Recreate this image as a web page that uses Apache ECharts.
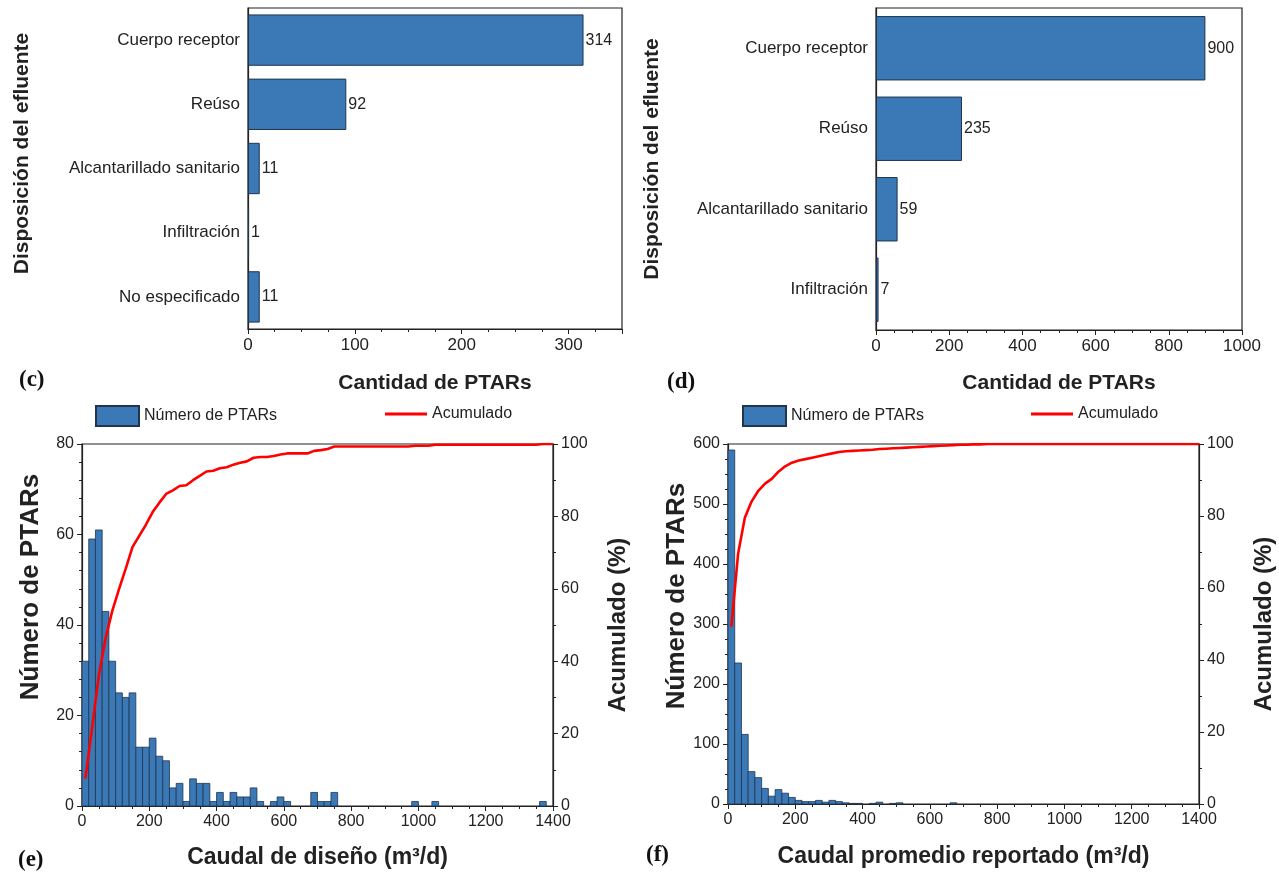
<!DOCTYPE html>
<html>
<head>
<meta charset="utf-8">
<script src="https://cdn.jsdelivr.net/npm/echarts@6/dist/echarts.min.js"></script>
<style>
  html, body { margin: 0; padding: 0; background: #fff; }
  #chart { width: 1279px; height: 886px; }
</style>
</head>
<body>
<div id="chart"></div>
<script>
// (c) disposición del efluente - caudal de diseño
const catsC = ['Cuerpo receptor', 'Reúso', 'Alcantarillado sanitario', 'Infiltración', 'No especificado']
const valsC = [314, 92, 11, 1, 11]

// (d) disposición del efluente - caudal reportado
const catsD = ['Cuerpo receptor', 'Reúso', 'Alcantarillado sanitario', 'Infiltración']
const valsD = [900, 235, 59, 7]

// histogram bins are 20 m3/d wide, from 0 to 1400
const binW = 20
const countsE = [
  32, 59, 61, 43, 32, 25, 24, 25, 13, 13,
  15, 11, 10, 4, 5, 1, 6, 5, 5, 1,
  3, 1, 3, 2, 2, 4, 1, 0, 1, 2,
  1, 0, 0, 0, 3, 1, 1, 3, 0, 0,
  0, 0, 0, 0, 0, 0, 0, 0, 0, 1,
  0, 0, 1, 0, 0, 0, 0, 0, 0, 0,
  0, 0, 0, 0, 0, 0, 0, 0, 1, 0
]
const cumE = [
  7.6, 21.6, 36.1, 46.3, 53.9, 59.9, 65.6, 71.5, 74.6, 77.7,
  81.2, 83.8, 86.2, 87.2, 88.4, 88.6, 90.0, 91.2, 92.4, 92.6,
  93.3, 93.6, 94.3, 94.8, 95.2, 96.2, 96.4, 96.4, 96.7, 97.1,
  97.4, 97.4, 97.4, 97.4, 98.1, 98.3, 98.6, 99.3, 99.3, 99.3,
  99.3, 99.3, 99.3, 99.3, 99.3, 99.3, 99.3, 99.3, 99.3, 99.5,
  99.5, 99.5, 99.8, 99.8, 99.8, 99.8, 99.8, 99.8, 99.8, 99.8,
  99.8, 99.8, 99.8, 99.8, 99.8, 99.8, 99.8, 99.8, 100, 100
]
const countsF = [
  590, 235, 116, 54, 44, 26, 13, 24, 18, 11,
  6, 4, 4, 6, 3, 6, 4, 2, 1, 1,
  0, 1, 3, 0, 1, 2, 0, 0, 0, 0,
  0, 0, 0, 2, 0, 0, 0, 0, 0, 0,
  0, 0, 0, 0, 0, 0, 0, 0, 0, 0,
  0, 0, 0, 0, 0, 0, 0, 0, 0, 0,
  0, 0, 0, 0, 0, 0, 0, 0, 0, 0
]
const cumF = [
  49.3, 69.5, 79.5, 84.0, 87.0, 89.0, 90.3, 92.3, 93.8, 94.8,
  95.4, 95.8, 96.2, 96.6, 97.0, 97.4, 97.8, 98.0, 98.1, 98.2,
  98.3, 98.4, 98.6, 98.7, 98.8, 98.9, 99.0, 99.1, 99.2, 99.3,
  99.4, 99.5, 99.6, 99.7, 99.8, 99.8, 99.9, 99.9, 100, 100,
  100, 100, 100, 100, 100, 100, 100, 100, 100, 100,
  100, 100, 100, 100, 100, 100, 100, 100, 100, 100,
  100, 100, 100, 100, 100, 100, 100, 100, 100, 100
]
const xMaxHist = 1400

const BLUE = '#3a78b6'
const EDGE = '#1f3550'
const RED = '#ff0000'
const INK = '#222'
const FONT = '"Liberation Sans", Arial, sans-serif'

function toBins(counts) {
  return counts
    .map((c, i) => [i * binW, (i + 1) * binW, c])
    .filter((d) => d[2] > 0)
}
function toLine(cum) {
  const pts = cum.map((p, i) => [i * binW + binW / 2, p])
  pts.push([xMaxHist, cum[cum.length - 1]])
  return pts
}
function renderBin(params, api) {
  const a = api.coord([api.value(0), api.value(2)])
  const b = api.coord([api.value(1), 0])
  return {
    type: 'rect',
    shape: { x: a[0], y: a[1], width: b[0] - a[0], height: b[1] - a[1] },
    style: { fill: BLUE, stroke: EDGE, lineWidth: 0.8 }
  }
}

function titleStyle(size, pad) {
  return { color: INK, fontWeight: 'bold', fontSize: size, fontFamily: FONT, padding: pad || 0 }
}

function valueAxis(extra, minorSplit) {
  return Object.assign({
    type: 'value',
    axisLine: { show: true, lineStyle: { color: INK, width: 1.2 } },
    axisTick: { show: true, length: 5, lineStyle: { color: INK } },
    minorTick: { show: true, splitNumber: minorSplit, length: 3, lineStyle: { color: INK } },
    splitLine: { show: false },
    axisLabel: { color: INK, fontSize: 16, fontFamily: FONT, formatter: (v) => String(v) },
    nameLocation: 'middle'
  }, extra)
}

const legendText = { fontSize: 16, color: INK, fontFamily: FONT }

const chart = echarts.init(document.getElementById('chart'))

chart.setOption({
  backgroundColor: '#fff',
  animation: false,
  textStyle: { fontFamily: FONT },
  grid: [
    { left: 248, top: 8, width: 374, height: 321, show: true, borderColor: INK, borderWidth: 1.2 },
    { left: 876, top: 8, width: 366, height: 322, show: true, borderColor: INK, borderWidth: 1.2 },
    { left: 82, top: 444, width: 471, height: 362, show: true, borderColor: INK, borderWidth: 1.2 },
    { left: 728, top: 444, width: 471, height: 360, show: true, borderColor: INK, borderWidth: 1.2 }
  ],
  legend: [
    { data: [{ name: 'Número de PTARs', icon: 'rect' }], left: 90, top: 400, itemWidth: 43, itemHeight: 20, textStyle: legendText },
    { data: [{ name: 'Acumulado', icon: 'rect' }], left: 380, top: 401, itemWidth: 42, itemHeight: 3, textStyle: legendText },
    { data: [{ name: 'Número de PTARs ', icon: 'rect' }], left: 737, top: 400, itemWidth: 43, itemHeight: 20, textStyle: legendText },
    { data: [{ name: 'Acumulado ', icon: 'rect' }], left: 1026, top: 401, itemWidth: 42, itemHeight: 3, textStyle: legendText }
  ],
  xAxis: [
    valueAxis({ gridIndex: 0, min: 0, max: 350, interval: 100,
      axisLabel: { color: INK, fontSize: 17, fontFamily: FONT, showMaxLabel: false },
      name: 'Cantidad de PTARs', nameGap: 44, nameTextStyle: titleStyle(21) }, 4),
    valueAxis({ gridIndex: 1, min: 0, max: 1000, interval: 200,
      axisLabel: { color: INK, fontSize: 17, fontFamily: FONT, formatter: (v) => String(v) },
      name: 'Cantidad de PTARs', nameGap: 43, nameTextStyle: titleStyle(21) }, 4),
    valueAxis({ gridIndex: 2, min: 0, max: xMaxHist, interval: 200,
      name: 'Caudal de diseño (m³/d)', nameGap: 40, nameTextStyle: titleStyle(23) }, 4),
    valueAxis({ gridIndex: 3, min: 0, max: xMaxHist, interval: 200,
      name: 'Caudal promedio reportado (m³/d)', nameGap: 41, nameTextStyle: titleStyle(23) }, 4)
  ],
  yAxis: [
    {
      type: 'category', gridIndex: 0, data: catsC, inverse: true,
      axisLine: { lineStyle: { color: INK, width: 1.2 } },
      axisTick: { show: false },
      axisLabel: { color: INK, fontSize: 17, fontFamily: FONT, margin: 8 },
      name: 'Disposición del efluente', nameLocation: 'middle', nameGap: 215,
      nameTextStyle: titleStyle(21, [0, 0, 0, 30])
    },
    {
      type: 'category', gridIndex: 1, data: catsD, inverse: true,
      axisLine: { lineStyle: { color: INK, width: 1.2 } },
      axisTick: { show: false },
      axisLabel: { color: INK, fontSize: 17, fontFamily: FONT, margin: 8 },
      name: 'Disposición del efluente', nameLocation: 'middle', nameGap: 213,
      nameTextStyle: titleStyle(21, [0, 0, 0, 20])
    },
    valueAxis({ gridIndex: 2, position: 'left', min: 0, max: 80, interval: 20,
      name: 'Número de PTARs', nameGap: 38, nameTextStyle: titleStyle(26, [0, 0, 0, 76]) }, 5),
    valueAxis({ gridIndex: 2, position: 'right', min: 0, max: 100, interval: 20,
      name: 'Acumulado (%)', nameGap: 53, nameTextStyle: titleStyle(24) }, 2),
    valueAxis({ gridIndex: 3, position: 'left', min: 0, max: 600, interval: 100,
      name: 'Número de PTARs', nameGap: 38, nameTextStyle: titleStyle(26, [0, 0, 0, 56]) }, 4),
    valueAxis({ gridIndex: 3, position: 'right', min: 0, max: 100, interval: 20,
      name: 'Acumulado (%)', nameGap: 53, nameTextStyle: titleStyle(24) }, 2)
  ],
  series: [
    {
      type: 'bar', xAxisIndex: 0, yAxisIndex: 0, data: valsC,
      barCategoryGap: '20%',
      itemStyle: { color: BLUE, borderColor: EDGE, borderWidth: 1 },
      label: { show: true, position: 'right', distance: 2, color: INK, fontSize: 16, fontFamily: FONT }
    },
    {
      type: 'bar', xAxisIndex: 1, yAxisIndex: 1, data: valsD,
      barCategoryGap: '20%',
      itemStyle: { color: BLUE, borderColor: EDGE, borderWidth: 1 },
      label: { show: true, position: 'right', distance: 2, color: INK, fontSize: 16, fontFamily: FONT }
    },
    {
      name: 'Número de PTARs', type: 'custom', xAxisIndex: 2, yAxisIndex: 2,
      data: toBins(countsE), encode: { x: [0, 1], y: 2 }, renderItem: renderBin,
      itemStyle: { color: BLUE, borderColor: EDGE, borderWidth: 1 }
    },
    {
      name: 'Acumulado', type: 'line', xAxisIndex: 2, yAxisIndex: 3,
      data: toLine(cumE), symbol: 'none', z: 5,
      lineStyle: { color: RED, width: 2.6 }, itemStyle: { color: RED }
    },
    {
      name: 'Número de PTARs ', type: 'custom', xAxisIndex: 3, yAxisIndex: 4,
      data: toBins(countsF), encode: { x: [0, 1], y: 2 }, renderItem: renderBin,
      itemStyle: { color: BLUE, borderColor: EDGE, borderWidth: 1 }
    },
    {
      name: 'Acumulado ', type: 'line', xAxisIndex: 3, yAxisIndex: 5,
      data: toLine(cumF), symbol: 'none', z: 5,
      lineStyle: { color: RED, width: 2.6 }, itemStyle: { color: RED }
    }
  ],
  graphic: [
    { type: 'text', left: 19, top: 369, style: { text: '(c)', font: 'bold 23px "Liberation Serif", serif', fill: '#111' } },
    { type: 'text', left: 667, top: 371, style: { text: '(d)', font: 'bold 23px "Liberation Serif", serif', fill: '#111' } },
    { type: 'text', left: 18, top: 849, style: { text: '(e)', font: 'bold 23px "Liberation Serif", serif', fill: '#111' } },
    { type: 'text', left: 646, top: 844, style: { text: '(f)', font: 'bold 23px "Liberation Serif", serif', fill: '#111' } }
  ]
})
</script>
</body>
</html>
